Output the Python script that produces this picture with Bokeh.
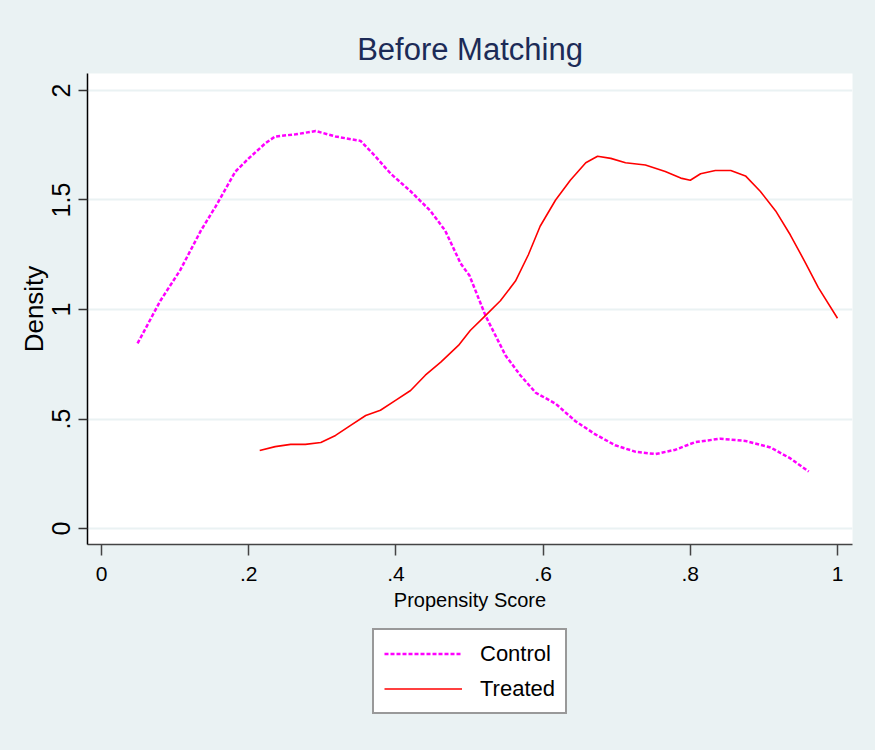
from bokeh.plotting import figure
from bokeh.models import Range1d, Legend, LegendItem, FixedTicker
from bokeh.layouts import column
from bokeh.embed import file_html
from bokeh.resources import INLINE

# ---- data ----
control_x = [0.049, 0.080, 0.107, 0.135, 0.155, 0.182, 0.200, 0.223, 0.236, 0.264,
             0.291, 0.318, 0.352, 0.372, 0.393, 0.420, 0.447, 0.467, 0.488, 0.500,
             0.522, 0.549, 0.569, 0.590, 0.617, 0.644, 0.671, 0.698, 0.726, 0.753,
             0.780, 0.807, 0.841, 0.875, 0.909, 0.936, 0.961]
control_y = [0.845, 1.04, 1.18, 1.36, 1.47, 1.63, 1.69, 1.76, 1.79, 1.80,
             1.815, 1.79, 1.77, 1.70, 1.62, 1.54, 1.45, 1.36, 1.21, 1.155,
             0.97, 0.79, 0.70, 0.62, 0.57, 0.49, 0.43, 0.38, 0.35, 0.34,
             0.36, 0.395, 0.41, 0.40, 0.37, 0.32, 0.26]

treated_x = [0.215, 0.236, 0.257, 0.277, 0.298, 0.318, 0.338, 0.359, 0.379, 0.399,
             0.420, 0.440, 0.461, 0.485, 0.501, 0.522, 0.542, 0.5625, 0.580, 0.596,
             0.617, 0.637, 0.658, 0.674, 0.692, 0.712, 0.739, 0.766, 0.787, 0.800,
             0.814, 0.834, 0.855, 0.875, 0.895, 0.916, 0.936, 0.957, 0.974, 1.0]
treated_y = [0.356, 0.374, 0.384, 0.384, 0.393, 0.425, 0.47, 0.516, 0.54, 0.584,
             0.63, 0.70, 0.76, 0.836, 0.904, 0.973, 1.04, 1.13, 1.25, 1.38,
             1.50, 1.59, 1.67, 1.70, 1.69, 1.67, 1.66, 1.63, 1.60, 1.59,
             1.62, 1.635, 1.635, 1.61, 1.54, 1.45, 1.34, 1.21, 1.10, 0.96]

x_ticks = [0, 0.2, 0.4, 0.6, 0.8, 1.0]
x_tick_labels = ["0", ".2", ".4", ".6", ".8", "1"]
y_ticks = [0, 0.5, 1.0, 1.5, 2.0]
y_tick_labels = ["0", ".5", "1", "1.5", "2"]
series_names = ["Control", "Treated"]

BG = "#EAF2F3"
FONT = "Liberation Sans"
C_CONTROL = "#FF00FF"
C_TREATED = "#FF0000"

p = figure(width=875, height=620, output_backend="svg", toolbar_location=None,
           x_range=Range1d(-0.019, 1.0204), y_range=Range1d(-0.073, 2.0776),
           title="Before Matching",
           min_border_left=87, min_border_right=23, min_border_top=73,
           min_border_bottom=76)

p.background_fill_color = "white"
p.border_fill_color = BG
p.outline_line_color = None

p.title.align = "center"
p.title.text_font = FONT
p.title.text_font_size = "31px"
p.title.text_font_style = "normal"
p.title.text_color = "#1c2b57"
p.title.offset = 0
p.title.standoff = 13

# grid
p.xgrid.grid_line_color = None
p.ygrid.grid_line_color = BG
p.ygrid.grid_line_width = 2
p.ygrid.ticker = FixedTicker(ticks=y_ticks)

# x axis
xa = p.xaxis[0]
xa.ticker = FixedTicker(ticks=x_ticks)
xa.major_label_overrides = {t: l for t, l in zip(x_ticks, x_tick_labels)}
xa.minor_tick_line_color = None
xa.major_tick_in = 0
xa.major_tick_out = 11
xa.major_tick_line_color = "#444444"
xa.major_tick_line_width = 1.5
xa.axis_line_color = "#444444"
xa.axis_line_width = 1.5
xa.major_label_text_font = FONT
xa.major_label_text_font_size = "21px"
xa.major_label_text_color = "black"
xa.major_label_standoff = 11
xa.axis_label = "Propensity Score"
xa.axis_label_text_font = FONT
xa.axis_label_text_font_size = "20px"
xa.axis_label_text_font_style = "normal"
xa.axis_label_text_color = "black"
xa.axis_label_standoff = 5

# y axis
ya = p.yaxis[0]
ya.ticker = FixedTicker(ticks=y_ticks)
ya.major_label_overrides = {t: l for t, l in zip(y_ticks, y_tick_labels)}
ya.minor_tick_line_color = None
ya.major_tick_in = 0
ya.major_tick_out = 9
ya.major_tick_line_color = "#333333"
ya.major_tick_line_width = 1.5
ya.axis_line_color = "black"
ya.axis_line_width = 1.5
ya.major_label_orientation = "vertical"
ya.major_label_text_font = FONT
ya.major_label_text_font_size = "25px"
ya.major_label_text_color = "black"
ya.major_label_standoff = 8
ya.axis_label = "Density"
ya.axis_label_text_font = FONT
ya.axis_label_text_font_size = "26px"
ya.axis_label_text_font_style = "normal"
ya.axis_label_text_color = "black"
ya.axis_label_standoff = 1

# lines
p.line(control_x, control_y, line_color=C_CONTROL, line_width=2.5, line_dash="4 2")
p.line(treated_x, treated_y, line_color=C_TREATED, line_width=1.6)

# ---- legend strip below the plot ----
# the strip's y range lies far above the data, so its copies of the lines stay
# off-screen and only serve as legend glyphs
q = figure(width=875, height=130, output_backend="svg", toolbar_location=None,
           x_range=Range1d(0, 1), y_range=Range1d(10, 11),
           min_border_left=0, min_border_right=0, min_border_top=0, min_border_bottom=0)
q.axis.visible = False
q.grid.visible = False
q.background_fill_color = BG
q.border_fill_color = BG
q.outline_line_color = None
lc = q.line(control_x, control_y, line_color=C_CONTROL, line_width=2.5, line_dash="4 2")
lt = q.line(treated_x, treated_y, line_color=C_TREATED, line_width=1.6)

legend = Legend(items=[LegendItem(label=series_names[0], renderers=[lc]),
                       LegendItem(label=series_names[1], renderers=[lt])],
                location=(285, 36), orientation="vertical")
legend.label_text_font = FONT
legend.label_text_font_size = "22px"
legend.label_text_color = "black"
legend.glyph_width = 78
legend.glyph_height = 27
legend.label_height = 27
legend.label_standoff = 18
legend.spacing = 8
legend.padding = 10
legend.margin = 0
legend.border_line_color = "#333333"
legend.border_line_width = 2
legend.background_fill_color = "white"
legend.background_fill_alpha = 1.0
q.add_layout(legend, "center")

layout = column(p, q, spacing=0)
html = file_html(layout, INLINE)
html = html.replace("<head>", "<head><style>body{background:#EAF2F3;}</style>", 1)
open("out.html", "w").write(html)
